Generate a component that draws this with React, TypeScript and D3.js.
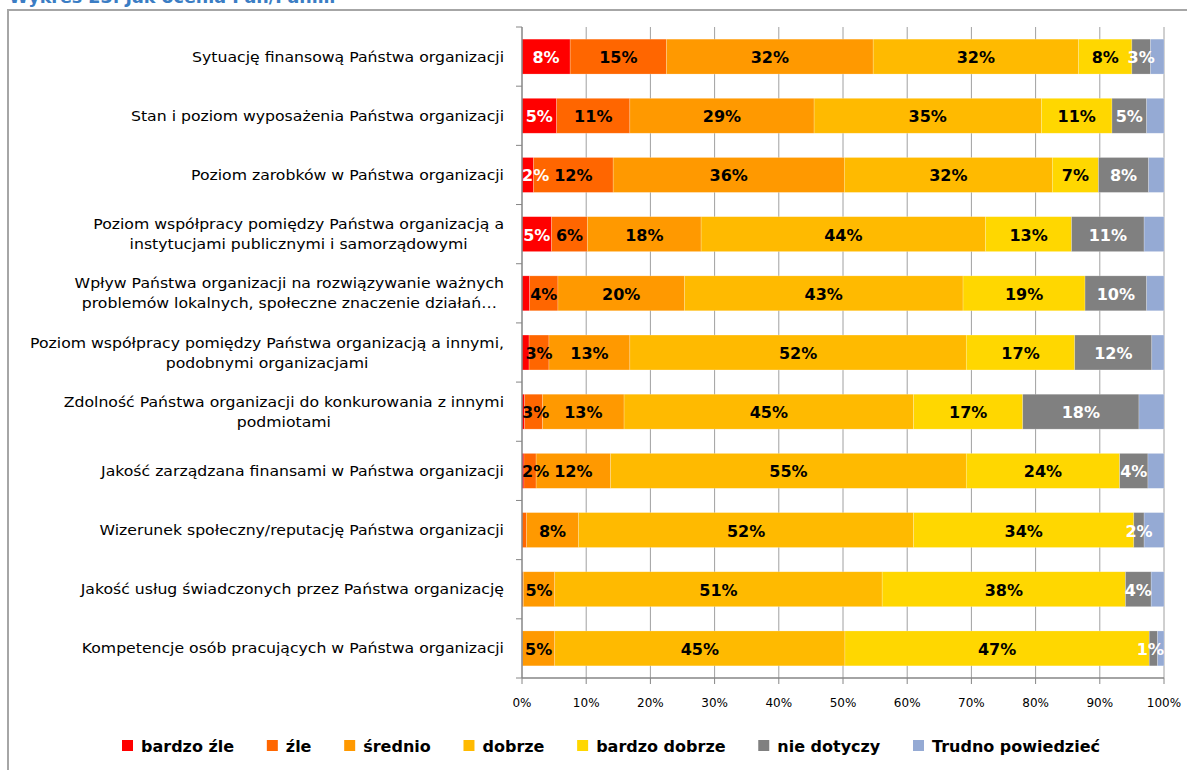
import React, { useEffect, useRef } from "react";
import * as d3 from "d3";

const categories: string[][] = [
  ["Sytuację finansową Państwa organizacji"],
  ["Stan i poziom wyposażenia Państwa organizacji"],
  ["Poziom zarobków w Państwa organizacji"],
  ["Poziom współpracy pomiędzy Państwa organizacją a", "instytucjami publicznymi i samorządowymi"],
  ["Wpływ Państwa organizacji na rozwiązywanie ważnych", "problemów lokalnych, społeczne znaczenie działań…"],
  ["Poziom współpracy pomiędzy Państwa organizacją a innymi,", "podobnymi organizacjami"],
  ["Zdolność Państwa organizacji do konkurowania z innymi", "podmiotami"],
  ["Jakość zarządzana finansami w Państwa organizacji"],
  ["Wizerunek społeczny/reputację Państwa organizacji"],
  ["Jakość usług świadczonych przez Państwa organizację"],
  ["Kompetencje osób pracujących w Państwa organizacji"],
];

const seriesNames = ["bardzo źle", "źle", "średnio", "dobrze", "bardzo dobrze", "nie dotyczy", "Trudno powiedzieć"];
const seriesColors = ["#FF0000", "#FF6600", "#FF9900", "#FFBA00", "#FFD700", "#808080", "#95AAD4"];
const labelColors = ["#FFFFFF", "#000000", "#000000", "#000000", "#000000", "#FFFFFF", ""];

const bardzoZle = [7.5, 5.4, 1.8, 4.6, 1.2, 1.1, 0.4, 0.3, 0, 0, 0];
const zle = [15.0, 11.4, 12.4, 5.6, 4.4, 3.1, 2.8, 1.9, 0.7, 0.2, 0.1];
const srednio = [32.2, 28.7, 36.0, 17.7, 19.7, 12.6, 12.7, 11.6, 8.1, 4.9, 5.0];
const dobrze = [32.0, 35.4, 32.4, 44.3, 43.4, 52.4, 45.1, 55.4, 52.2, 51.0, 45.2];
const bardzoDobrze = [8.3, 11.0, 7.2, 13.4, 19.0, 16.9, 17.0, 23.9, 34.3, 37.9, 47.4];
const nieDotyczy = [2.9, 5.4, 7.8, 11.3, 9.6, 12.0, 18.1, 4.4, 1.6, 4.0, 1.3];
const trudno = [2.1, 2.7, 2.4, 3.1, 2.7, 1.9, 3.9, 2.5, 3.1, 2.0, 1.0];

const seriesValues = [bardzoZle, zle, srednio, dobrze, bardzoDobrze, nieDotyczy, trudno];

const xTicks = [0, 10, 20, 30, 40, 50, 60, 70, 80, 90, 100];
const xTickLabels = ["0%", "10%", "20%", "30%", "40%", "50%", "60%", "70%", "80%", "90%", "100%"];

const title = "Wykres 23. Jak ocenia Pan/Pani…";

const W = 1187;
const H = 770;

export default function App() {
  const ref = useRef<SVGSVGElement | null>(null);

  useEffect(() => {
    const svg = d3.select(ref.current);
    svg.selectAll("*").remove();

    const xMin = 522;
    const xMax = 1164;
    const x = d3.scaleLinear().domain([0, 100]).range([xMin, xMax]);
    const y = d3
      .scaleBand<number>()
      .domain(categories.map((_, i) => i))
      .range([27, 678])
      .paddingInner(0.41)
      .paddingOuter(0.205);

    // frame
    svg
      .append("rect")
      .attr("x", 8)
      .attr("y", 10)
      .attr("width", 1200)
      .attr("height", 800)
      .attr("fill", "#fff")
      .attr("stroke", "#A6A6A6")
      .attr("stroke-width", 2);

    // title (cut off at top)
    svg
      .append("text")
      .attr("x", 9)
      .attr("y", 3)
      .attr("font-family", "DejaVu Sans")
      .attr("font-weight", "bold")
      .attr("font-size", 17.5)
      .attr("fill", "#3B7DC4")
      .text(title);

    // gridlines
    svg
      .append("g")
      .selectAll("line")
      .data(xTicks.slice(1))
      .join("line")
      .attr("x1", (d) => x(d))
      .attr("x2", (d) => x(d))
      .attr("y1", 27)
      .attr("y2", 678)
      .attr("stroke", "#A0A0A0")
      .attr("stroke-width", 1);

    // bars
    const stackData = categories.map((_, i) => {
      let cum = 0;
      return seriesValues.map((vals, s) => {
        const v = vals[i];
        const seg = { s, i, v, x0: cum, x1: cum + v };
        cum += v;
        return seg;
      });
    });
    const flat = stackData.flat();

    svg
      .append("g")
      .selectAll("rect")
      .data(flat.filter((d) => d.v > 0))
      .join("rect")
      .attr("x", (d) => x(d.x0))
      .attr("width", (d) => x(d.x1) - x(d.x0))
      .attr("y", (d) => y(d.i)!)
      .attr("height", y.bandwidth())
      .attr("fill", (d) => seriesColors[d.s])
      .attr("stroke", "rgba(255,255,255,0.35)")
      .attr("stroke-width", 0.6);

    // data labels (kept inside the plot area, like Excel)
    const showLabel = (d: any) => {
      if (d.s === 6) return false;
      if (d.s === 5) return d.v >= 1;
      return d.v >= 1.5;
    };
    const labels = svg
      .append("g")
      .selectAll("text")
      .data(flat.filter(showLabel))
      .join("text")
      .attr("x", (d) => (x(d.x0) + x(d.x1)) / 2)
      .attr("y", (d) => y(d.i)! + y.bandwidth() / 2 + 1)
      .attr("text-anchor", "middle")
      .attr("dominant-baseline", "central")
      .attr("font-family", "DejaVu Sans")
      .attr("font-weight", "bold")
      .attr("font-size", 16)
      .attr("fill", (d) => labelColors[d.s])
      .text((d) => `${Math.round(d.v)}%`);
    labels.each(function (d) {
      const el = this as SVGTextElement;
      const w = el.getComputedTextLength();
      let cx = (x(d.x0) + x(d.x1)) / 2;
      cx = Math.max(xMin + w / 2, Math.min(xMax - w / 2, cx));
      d3.select(el).attr("x", cx);
    });

    // axes
    const axisColor = "#868686";
    svg
      .append("line")
      .attr("x1", xMin)
      .attr("x2", xMin)
      .attr("y1", 27)
      .attr("y2", 678)
      .attr("stroke", axisColor)
      .attr("stroke-width", 1.5);
    const boundaries = d3.range(categories.length + 1).map((k) => 27 + (k * (678 - 27)) / categories.length);
    svg
      .append("g")
      .selectAll("line")
      .data(boundaries)
      .join("line")
      .attr("x1", 516)
      .attr("x2", xMin)
      .attr("y1", (d) => d)
      .attr("y2", (d) => d)
      .attr("stroke", axisColor)
      .attr("stroke-width", 1);
    svg
      .append("line")
      .attr("x1", xMin)
      .attr("x2", xMax)
      .attr("y1", 678)
      .attr("y2", 678)
      .attr("stroke", axisColor)
      .attr("stroke-width", 1.5);
    svg
      .append("g")
      .selectAll("line")
      .data(xTicks)
      .join("line")
      .attr("x1", (d) => x(d))
      .attr("x2", (d) => x(d))
      .attr("y1", 678)
      .attr("y2", 684)
      .attr("stroke", axisColor)
      .attr("stroke-width", 1);
    svg
      .append("g")
      .selectAll("text")
      .data(xTicks)
      .join("text")
      .attr("x", (d) => x(d))
      .attr("y", 703)
      .attr("text-anchor", "middle")
      .attr("dominant-baseline", "central")
      .attr("font-family", "DejaVu Sans")
      .attr("font-size", 12)
      .attr("fill", "#000")
      .text((_, k) => xTickLabels[k]);

    // category labels
    const gCat = svg.append("g");
    const stretch = 1.12;
    categories.forEach((lines, i) => {
      const cy = y(i)! + y.bandwidth() / 2;
      const lh = 20;
      const texts = lines.map((line, k) =>
        gCat
          .append("text")
          .attr("y", cy + (k - (lines.length - 1) / 2) * lh)
          .attr("dominant-baseline", "central")
          .attr("font-family", "DejaVu Sans")
          .attr("font-size", 14)
          .attr("fill", "#000")
          .text(line)
      );
      const widths = texts.map((t) => (t.node() as SVGTextElement).getComputedTextLength() * stretch);
      const maxW = Math.max(...widths);
      const cx = 504 - maxW / 2;
      texts.forEach((t, k) =>
        t
          .attr("x", cx)
          .attr("text-anchor", "middle")
          .attr("textLength", widths[k])
          .attr("lengthAdjust", "spacingAndGlyphs")
      );
    });

    // legend
    const gLeg = svg.append("g");
    const legY = 746;
    const items = seriesNames.map((name, s) => {
      const g = gLeg.append("g");
      g.append("rect")
        .attr("x", 0)
        .attr("y", legY - 6)
        .attr("width", 11)
        .attr("height", 11)
        .attr("fill", seriesColors[s]);
      const t = g
        .append("text")
        .attr("x", 19)
        .attr("y", legY)
        .attr("dominant-baseline", "central")
        .attr("font-family", "DejaVu Sans")
        .attr("font-weight", "bold")
        .attr("font-size", 16)
        .attr("fill", "#000")
        .text(name);
      const w = 19 + (t.node() as SVGTextElement).getComputedTextLength();
      return { g, w };
    });
    const start = 122;
    const end = 1100;
    const total = items.reduce((a, b) => a + b.w, 0);
    const gap = (end - start - total) / (items.length - 1);
    let cx = start;
    items.forEach((it) => {
      it.g.attr("transform", `translate(${cx},0)`);
      cx += it.w + gap;
    });
  }, []);

  return (
    <svg
      ref={ref}
      width={W}
      height={H}
      style={{ position: "absolute", left: 0, top: 0, display: "block", background: "#fff" }}
    />
  );
}
